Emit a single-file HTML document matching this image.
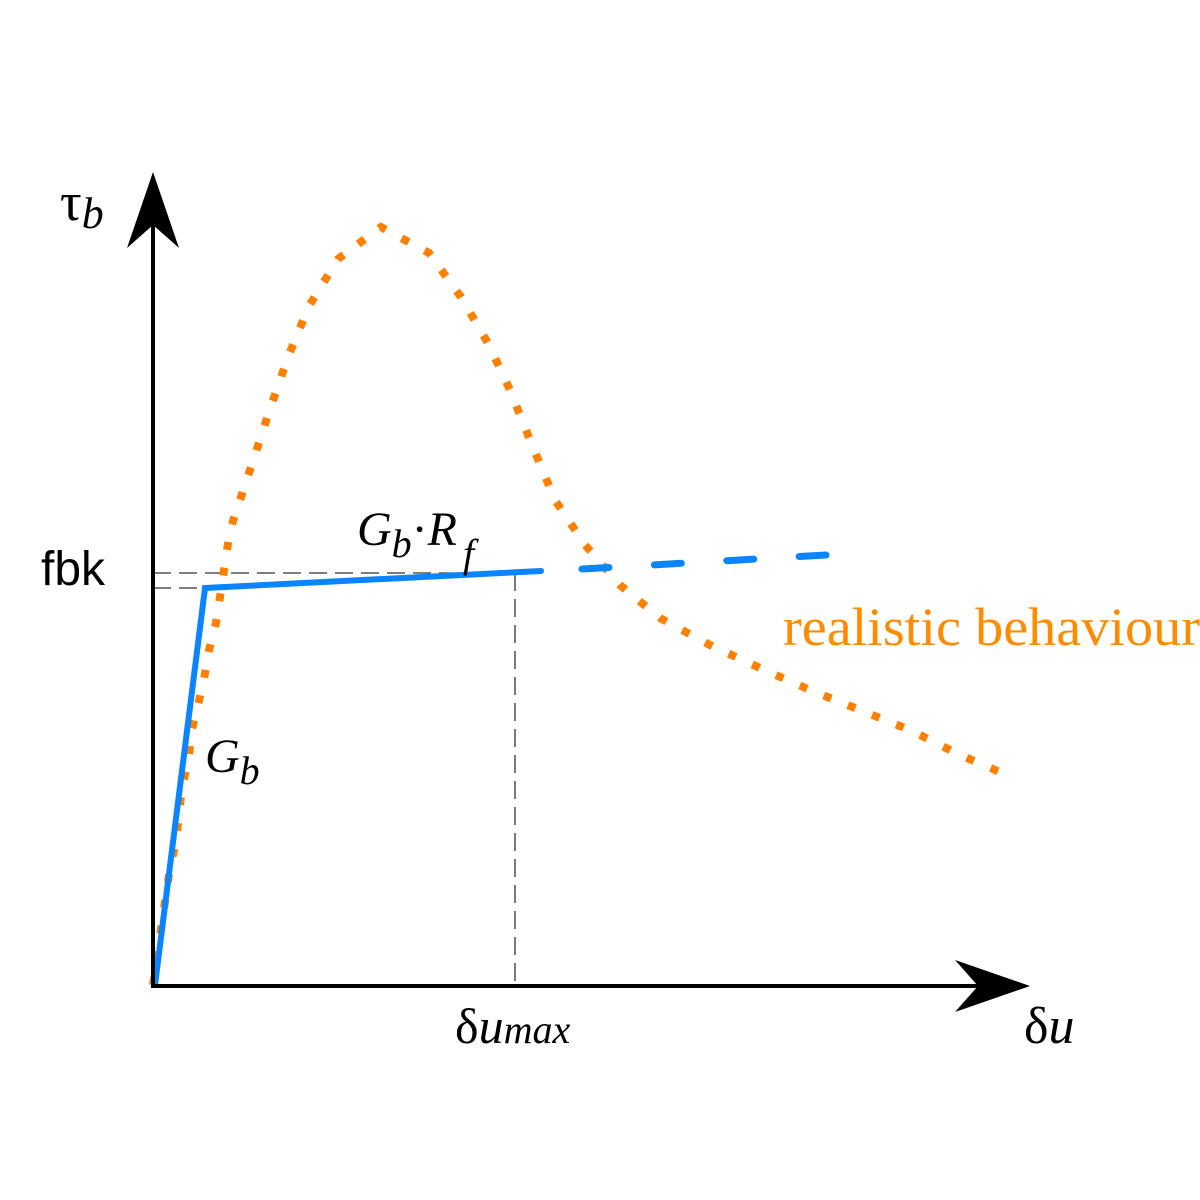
<!DOCTYPE html>
<html><head><meta charset="utf-8"><style>
body{margin:0;background:#fff;}
svg{display:block;}
.serif{font-family:"Liberation Serif",serif;}
.sans{font-family:"Liberation Sans",sans-serif;}
</style></head><body>
<svg id="chart" width="1200" height="1200" viewBox="0 0 1200 1200" xmlns="http://www.w3.org/2000/svg">
<rect width="1200" height="1200" fill="#fff"/>
<g id="guides"></g>
<g id="series"></g>
<g id="axes">
  <line x1="153" y1="987" x2="153" y2="215" stroke="#000" stroke-width="4"/>
  <path d="M153,172 L179,248 L153,225 L127,248 Z" fill="#000"/>
  <line x1="151" y1="986" x2="990" y2="986" stroke="#000" stroke-width="4"/>
  <path d="M1030,986 L955,960 L978,986 L955,1012 Z" fill="#000"/>
</g>
<g id="labels">
  <text class="serif" x="60" y="220" font-size="54">τ<tspan font-style="italic" font-size="44" dy="8">b</tspan></text>
  <text class="sans" x="41" y="585" font-size="48">fbk</text>
  <text class="serif" x="1024" y="1043" font-size="52">δ<tspan font-style="italic">u</tspan></text>
  <text class="serif" x="455" y="1043" font-size="50">δ<tspan font-style="italic">u</tspan><tspan font-style="italic" font-size="40">max</tspan></text>
  <text class="serif" font-style="italic" x="205" y="772" font-size="48">G<tspan font-size="40" dy="12">b</tspan></text>
  <text class="serif" font-style="italic" x="357" y="545" font-size="48">G<tspan font-size="40" dy="12">b</tspan><tspan font-style="normal" dy="-12">·</tspan>R<tspan font-size="40" dy="22" dx="6">f</tspan></text>
  <text class="serif" x="783" y="645" font-size="54" fill="#ff8c00" textLength="417" lengthAdjust="spacingAndGlyphs">realistic behaviour</text>
</g>
</svg>
<script>
// data units: x = slip, y = stress
const curveX = [0,0.5,0.9,1.3,1.7,2.3,2.6,2.9,3.6,3.8,4.5,5.1,5.6,6.3,6.7,7.7,10,11.7,13.5,15.6,18.5,22.8,27.6,30.8,33.6,35.7,37.7,40.2,43.2,46.7,50.7,55.7,60.7,65.7,70.7,75.7,80.7,84.7];
const curveY = [0,3.5,6.3,9,11.7,14.4,17,19.8,22.7,25.2,28,30.6,33.5,36.2,38.8,45.5,52.4,57.6,62.8,67.9,72.6,75.8,73.2,68.8,64,59.5,54.5,48.5,44,40,36.7,34,31.7,29.5,27.5,25.5,23,21.3];
const bilinX = [0.2,5.2,38.8];
const bilinY = [0,39.7,41.4];
const extX = [42.9,67.3];
const extY = [41.6,43.0];
const fbk = 41.2;
const fbkYield = 39.7;
const yieldX = 5.2;
const duMax = 36.2;

const sx = v => 153 + v*10;
const sy = v => 985 - v*10;
const NS = 'http://www.w3.org/2000/svg';
function pathFrom(xs, ys){ return xs.map((x,i)=>(i?'L':'M')+sx(x).toFixed(1)+','+sy(ys[i]).toFixed(1)).join(' '); }

const guides = document.getElementById('guides');
const series = document.getElementById('series');

function line(x1,y1,x2,y2,name){
  const l = document.createElementNS(NS,'line');
  l.setAttribute('x1',x1);l.setAttribute('y1',y1);l.setAttribute('x2',x2);l.setAttribute('y2',y2);
  l.setAttribute('stroke','#333');l.setAttribute('stroke-width','1.3');l.setAttribute('stroke-dasharray','18 8');
  
  
  guides.appendChild(l);
}
line(sx(0),sy(fbk),sx(duMax),sy(fbk),'fbk-guide');
line(sx(0),sy(fbkYield),sx(yieldX),sy(fbkYield),'yield-guide');
line(sx(duMax),sy(fbk),sx(duMax),sy(0),'du-max-guide');

const c = document.createElementNS(NS,'path');
c.setAttribute('d', pathFrom(curveX, curveY));
c.setAttribute('fill','none');c.setAttribute('stroke','#ff8000');c.setAttribute('stroke-width','8');
c.setAttribute('stroke-dasharray','8 18');


series.appendChild(c);

const b = document.createElementNS(NS,'path');
b.setAttribute('d', pathFrom(bilinX, bilinY));
b.setAttribute('fill','none');b.setAttribute('stroke','#0a84ff');b.setAttribute('stroke-width','6');
b.setAttribute('stroke-linecap','round');b.setAttribute('stroke-linejoin','miter');


series.appendChild(b);

const e = document.createElementNS(NS,'path');
e.setAttribute('d', pathFrom(extX, extY));
e.setAttribute('fill','none');e.setAttribute('stroke','#0a84ff');e.setAttribute('stroke-width','7');
e.setAttribute('stroke-linecap','round');
e.setAttribute('stroke-dasharray','27 45.5');


series.appendChild(e);
</script>
</body></html>
